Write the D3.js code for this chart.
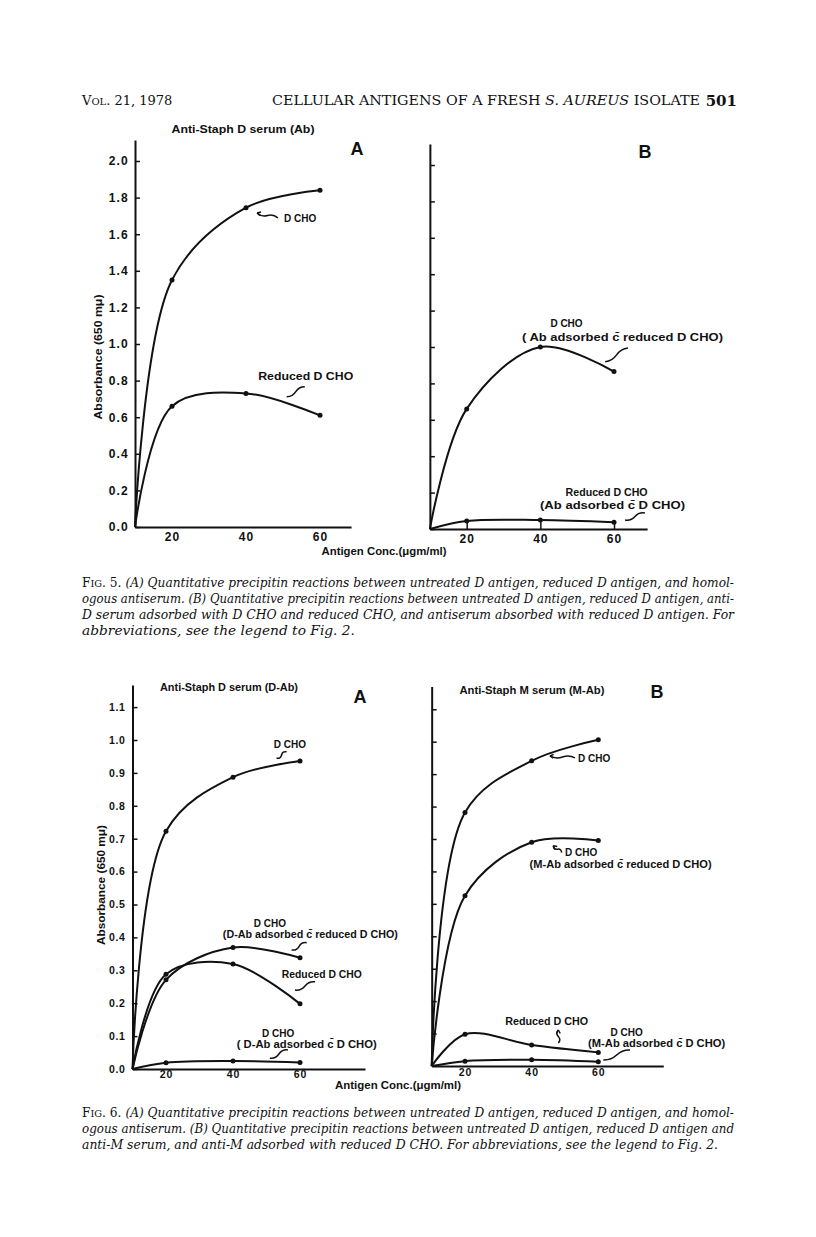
<!DOCTYPE html>
<html>
<head>
<meta charset="utf-8">
<script src="https://cdn.jsdelivr.net/npm/d3@7"></script>
<style>
  body { margin: 0; background: #fff; }
  svg text { fill: #111; }
  .lbl { font-family: "Liberation Sans", Arial, sans-serif; font-weight: bold; }
  .cap { font-family: "DejaVu Serif", serif; font-size: 12.5px; }
  .hdr { font-family: "DejaVu Serif", serif; }
</style>
</head>
<body>
<svg id="page" width="816" height="1237"></svg>
<script>
// antigen concentration (ugm/ml) of the measured points, curves start at the axis origin
const conc = [20, 40, 60];
const originConc = 10;

// Fig. 5A  anti-Staph D serum (Ab)
const f5aDcho = [1.35, 1.745, 1.84];
const f5aReduced = [0.66, 0.73, 0.61];
// Fig. 5B
const f5bDchoAdsReduced = [0.66, 1.0, 0.865];
const f5bReducedAdsD = [0.044, 0.049, 0.037];
// Fig. 6A  anti-Staph D serum (D-Ab)
const f6aDcho = [0.723, 0.887, 0.936];
const f6aDchoAdsReduced = [0.271, 0.369, 0.338];
const f6aReduced = [0.288, 0.319, 0.198];
const f6aDchoAdsD = [0.019, 0.024, 0.020];
// Fig. 6B  anti-Staph M serum (M-Ab)
const f6bDcho = [0.782, 0.941, 1.006];
const f6bDchoAdsReduced = [0.525, 0.69, 0.695];
const f6bReduced = [0.098, 0.065, 0.042];
const f6bDchoAdsD = [0.015, 0.019, 0.013];

// y ticks
const ticks5 = [0, 0.2, 0.4, 0.6, 0.8, 1.0, 1.2, 1.4, 1.6, 1.8, 2.0];
const ticks6 = [0, 0.1, 0.2, 0.3, 0.4, 0.5, 0.6, 0.7, 0.8, 0.9, 1.0, 1.1];

const svg = d3.select("#page");
const ink = "#111";
const CB = "c\u0304"; // c with bar (cum)

function squiggle(g, p0, p1, arrow) {
  const dx = p1[0] - p0[0], dy = p1[1] - p0[1];
  const len = Math.hypot(dx, dy), nx = -dy / len, ny = dx / len, a = 3;
  const m = [p0[0] + dx * 0.5, p0[1] + dy * 0.5];
  const c1 = [p0[0] + dx * 0.25 + nx * a, p0[1] + dy * 0.25 + ny * a];
  g.append("path")
    .attr("d", `M${p0[0]},${p0[1]} Q${c1[0]},${c1[1]} ${m[0]},${m[1]} T${p1[0]},${p1[1]}`)
    .attr("fill", "none").attr("stroke", ink).attr("stroke-width", 1.5);
  if (arrow) {
    const ux = dx / len, uy = dy / len;
    [0.5, -0.5].forEach(s => {
      const cs = Math.cos(s), sn = Math.sin(s);
      const rx = ux * cs - uy * sn, ry = ux * sn + uy * cs;
      g.append("line").attr("x1", p0[0]).attr("y1", p0[1])
        .attr("x2", p0[0] + rx * 4).attr("y2", p0[1] + ry * 4)
        .attr("stroke", ink).attr("stroke-width", 1.5);
    });
  }
}

function panel(c) {
  const x = d3.scaleLinear().domain([20, 60]).range(c.xr);
  const y = d3.scaleLinear().domain([0, c.yUnit]).range(c.yr);
  const g = svg.append("g");

  const yAx = y.copy().domain([0, c.yTop]).range([y(0), y(c.yTop)]);
  const xAx = x.copy().domain([originConc, c.xEnd]).range([x(originConc), x(c.xEnd)]);

  const ya = g.append("g").attr("transform", `translate(${x(originConc)},0)`)
    .call(d3.axisLeft(yAx).tickValues(c.yTicks).tickSizeInner(-5).tickSizeOuter(0)
      .tickPadding(c.yPad).tickFormat(c.yLabels ? d3.format(".1f") : ""));
  ya.selectAll("text").attr("class", "lbl").attr("font-size", c.yFont)
    .attr("letter-spacing", c.ySpace).attr("font-family", null);

  const xa = g.append("g").attr("transform", `translate(0,${y(0)})`)
    .call(d3.axisBottom(xAx).tickValues(conc).tickSizeInner(c.xTickIn ? -7 : 0)
      .tickSizeOuter(0).tickPadding(c.xPad).tickFormat(d3.format("d")));
  xa.selectAll("text").attr("class", "lbl").attr("font-size", c.xFont)
    .attr("letter-spacing", 1).attr("font-family", null);

  g.selectAll(".domain").attr("stroke", ink).attr("stroke-width", 2);
  g.selectAll(".tick line").attr("stroke", ink).attr("stroke-width", 1.5);

  const line = d3.line().x(d => x(d[0])).y(d => y(d[1]))
    .curve(d3.curveCatmullRom.alpha(0.5));

  c.series.forEach(vals => {
    const pts = [[originConc, 0]].concat(conc.map((k, i) => [k, vals[i]]));
    g.append("path").attr("d", line(pts)).attr("fill", "none")
      .attr("stroke", ink).attr("stroke-width", 2);
    g.selectAll(null).data(pts.slice(1)).join("circle")
      .attr("cx", d => x(d[0])).attr("cy", d => y(d[1])).attr("r", 2.5).attr("fill", ink);
  });

  c.notes.forEach(n => {
    const t = g.append("text").attr("class", "lbl").attr("x", x(n.u)).attr("y", y(n.v))
      .attr("font-size", n.fs || 10).attr("text-anchor", n.anchor || "middle").text(n.t);
    if (n.w) t.attr("textLength", n.w).attr("lengthAdjust", "spacingAndGlyphs");
  });
  c.leaders.forEach(l => squiggle(g, [x(l[0]), y(l[1])], [x(l[2]), y(l[3])], l[4]));

  g.append("text").attr("class", "lbl").attr("x", c.letter[0]).attr("y", c.letter[1])
    .attr("font-size", 18).attr("text-anchor", "middle").text(c.letter[2]);
  if (c.title) {
    g.append("text").attr("class", "lbl").attr("x", c.title[0]).attr("y", c.title[1])
      .attr("font-size", 10).attr("text-anchor", "middle")
      .attr("textLength", c.title[3]).attr("lengthAdjust", "spacingAndGlyphs").text(c.title[2]);
  }
  return { x, y };
}

// ---- Fig. 5 ----
panel({
  xr: [172, 320], yr: [527, 161], yUnit: 2, yTop: 2.115, xEnd: 68.4,
  yTicks: ticks5, yLabels: true, yPad: 6, yFont: 12, ySpace: 1.2,
  xPad: 5, xFont: 12, xTickIn: false,
  series: [f5aDcho, f5aReduced],
  notes: [
    { t: "D CHO", u: 50.3, v: 1.667, anchor: "start" },
    { t: "Reduced D CHO", u: 43.3, v: 0.803, anchor: "start", w: 95 }
  ],
  leaders: [[43.0, 1.716, 48.6, 1.689, true], [51.0, 0.712, 55.9, 0.767]],
  letter: [357, 155, "A"],
  title: [243, 133, "Anti-Staph D serum (Ab)", 143]
});
panel({
  xr: [466.7, 614], yr: [529, 165], yUnit: 2, yTop: 2.115, xEnd: 69,
  yTicks: ticks5, yLabels: false, yPad: 6, yFont: 12, ySpace: 1,
  xPad: 5, xFont: 12, xTickIn: true,
  series: [f5bDchoAdsReduced, f5bReducedAdsD],
  notes: [
    { t: "D CHO", u: 47.1, v: 1.11 },
    { t: "( Ab adsorbed " + CB + " reduced  D CHO)", u: 62.3, v: 1.033, w: 201 },
    { t: "Reduced  D  CHO", u: 58.0, v: 0.184, w: 82 },
    { t: "(Ab adsorbed " + CB + " D  CHO)", u: 59.6, v: 0.11, w: 145 }
  ],
  leaders: [[57.6, 0.919, 63.8, 0.995], [63.0, 0.049, 68.4, 0.088]],
  letter: [645, 158, "B"]
});

// ---- Fig. 6 ----
panel({
  xr: [166, 300], yr: [1069, 740], yUnit: 1, yTop: 1.167, xEnd: 79.4,
  yTicks: ticks6, yLabels: true, yPad: 7, yFont: 10.5, ySpace: 0.6,
  xPad: 2, xFont: 10.5, xTickIn: false,
  series: [f6aDcho, f6aDchoAdsReduced, f6aReduced, f6aDchoAdsD],
  notes: [
    { t: "D  CHO", u: 57.0, v: 0.977 },
    { t: "D CHO", u: 51.0, v: 0.432 },
    { t: "(D-Ab adsorbed " + CB + " reduced D CHO)", u: 63.1, v: 0.398, w: 175 },
    { t: "Reduced D CHO", u: 66.5, v: 0.277, w: 80 },
    { t: "D CHO", u: 53.5, v: 0.097 },
    { t: "( D-Ab adsorbed " + CB + " D CHO)", u: 62.0, v: 0.065, w: 140 }
  ],
  leaders: [[53.0, 0.945, 56.0, 0.964], [57.5, 0.362, 62.0, 0.384],
            [58.5, 0.240, 64.5, 0.265], [51.0, 0.033, 56.4, 0.058]],
  letter: [360, 703, "A"],
  title: [229, 691, "Anti-Staph D serum (D-Ab)", 138]
});
panel({
  xr: [465, 598.3], yr: [1066, 741.7], yUnit: 1, yTop: 1.17, xEnd: 79.5,
  yTicks: ticks6.slice(1), yLabels: false, yPad: 7, yFont: 10.5, ySpace: 0.6,
  xPad: 3, xFont: 10.5, xTickIn: false,
  series: [f6bDcho, f6bDchoAdsReduced, f6bReduced, f6bDchoAdsD],
  notes: [
    { t: "D CHO", u: 53.9, v: 0.937, anchor: "start" },
    { t: "D  CHO", u: 50.0, v: 0.649, anchor: "start" },
    { t: "(M-Ab adsorbed " + CB + " reduced D CHO)", u: 66.7, v: 0.61, w: 182 },
    { t: "Reduced D CHO", u: 44.5, v: 0.125, w: 83 },
    { t: "D  CHO", u: 68.5, v: 0.091 },
    { t: "(M-Ab adsorbed " + CB + " D CHO)", u: 77.5, v: 0.059, w: 137 }
  ],
  leaders: [[45.5, 0.956, 53.0, 0.950, true], [46.5, 0.679, 49.0, 0.658, true],
            [48.0, 0.111, 48.0, 0.071, true], [61.5, 0.0185, 69.5, 0.049]],
  letter: [657, 698, "B"],
  title: [532, 694, "Anti-Staph M serum (M-Ab)", 145]
});

// axis titles
[[98, 357, 125], [101, 885, 120]].forEach(([x0, y0, w]) => {
  svg.append("text").attr("class", "lbl").attr("font-size", 10)
    .attr("transform", `translate(${x0},${y0}) rotate(-90)`).attr("text-anchor", "middle")
    .attr("dy", "0.35em").attr("textLength", w).attr("lengthAdjust", "spacingAndGlyphs")
    .text("Absorbance (650 m\u03bc)");
});
[[384, 555, 125], [398, 1089, 126]].forEach(([x0, y0, w]) => {
  svg.append("text").attr("class", "lbl").attr("font-size", 10).attr("x", x0).attr("y", y0)
    .attr("text-anchor", "middle").attr("textLength", w).attr("lengthAdjust", "spacingAndGlyphs")
    .text("Antigen  Conc.(\u03bcgm/ml)");
});

// running head
const hdr = svg.append("g").attr("class", "hdr");
const vol = hdr.append("text").attr("x", 82).attr("y", 105).attr("font-size", 13);
vol.append("tspan").text("V");
vol.append("tspan").attr("font-size", 10).text("OL");
vol.append("tspan").text(". 21, 1978");
const run = hdr.append("text").attr("x", 272).attr("y", 105).attr("font-size", 13)
  .attr("textLength", 428).attr("lengthAdjust", "spacingAndGlyphs");
run.append("tspan").text("CELLULAR ANTIGENS OF A FRESH ");
run.append("tspan").attr("font-style", "italic").text("S. AUREUS");
run.append("tspan").text(" ISOLATE");
hdr.append("text").attr("x", 737).attr("y", 106).attr("text-anchor", "end")
  .attr("font-size", 15).attr("font-weight", "bold").text("501");

// captions
function caption(lines, y0, fig) {
  lines.forEach((ln, i) => {
    const t = svg.append("text").attr("class", "cap").attr("x", 82).attr("y", y0 + i * 16)
      .attr("textLength", ln[1]).attr("lengthAdjust", "spacingAndGlyphs");
    if (i === 0) {
      t.append("tspan").text("F");
      t.append("tspan").attr("font-size", 10).text("IG");
      t.append("tspan").text(". " + fig + ". ");
    }
    t.append("tspan").attr("font-style", "italic").text(ln[0]);
  });
}
caption([
  ["(A) Quantitative precipitin reactions between untreated D antigen, reduced D antigen, and homol-", 652],
  ["ogous antiserum. (B) Quantitative precipitin reactions between untreated D antigen, reduced D antigen, anti-", 652],
  ["D serum adsorbed with D CHO and reduced CHO, and antiserum absorbed with reduced D antigen. For", 652],
  ["abbreviations, see the legend to Fig. 2.", 273]
], 587, 5);
caption([
  ["(A) Quantitative precipitin reactions between untreated D antigen, reduced D antigen, and homol-", 652],
  ["ogous antiserum. (B) Quantitative precipitin reactions between untreated D antigen, reduced D antigen and", 652],
  ["anti-M serum, and anti-M adsorbed with reduced D CHO. For abbreviations, see the legend to Fig. 2.", 636]
], 1117, 6);
</script>
</body>
</html>
